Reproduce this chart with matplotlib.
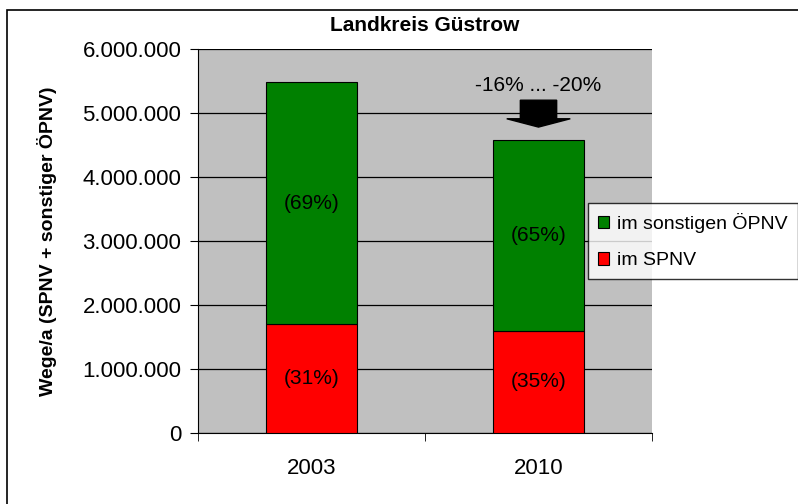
import numpy as np
import matplotlib
matplotlib.use("Agg")
from matplotlib import pyplot as plt
from matplotlib.patches import FancyArrow, Rectangle
from matplotlib.ticker import FuncFormatter, FixedLocator

jahre = ["2003", "2010"]
spnv = [1700000, 1600000]
oepnv = [3780000, 2980000]
anteil_spnv = ["(31%)", "(35%)"]
anteil_oepnv = ["(69%)", "(65%)"]
yticks = [0, 1000000, 2000000, 3000000, 4000000, 5000000, 6000000]

plt.rcParams['font.family'] = ['Liberation Sans', 'DejaVu Sans']

fig = plt.figure(figsize=(7.98, 5.04), dpi=100)
fig.patches.append(Rectangle((7/798, -0.1), 1.1, 1.1 - 10/504, transform=fig.transFigure,
                             fill=False, edgecolor='black', linewidth=1.2))
ax = fig.add_axes([198/798, 1 - 433/504, 454/798, 384/504])
ax.set_facecolor('#c0c0c0')

x = np.arange(len(jahre))
ax.bar(x, spnv, width=0.4, color='#ff0000', edgecolor='black', linewidth=0.8, zorder=3, label='im SPNV')
ax.bar(x, oepnv, width=0.4, bottom=spnv, color='#008000', edgecolor='black', linewidth=0.8, zorder=3,
       label='im sonstigen ÖPNV')

for i in range(len(jahre)):
    ax.text(x[i], spnv[i] / 2, anteil_spnv[i], ha='center', va='center', fontsize=15, zorder=4)
    ax.text(x[i], spnv[i] + oepnv[i] / 2, anteil_oepnv[i], ha='center', va='center', fontsize=15, zorder=4)

ax.set_xlim(-0.5, 1.5)
ax.set_ylim(0, 6000000)
ax.yaxis.set_major_locator(FixedLocator(yticks))
ax.yaxis.set_major_formatter(FuncFormatter(lambda v, p: f"{int(v):,}".replace(",", ".")))
ax.yaxis.grid(True, color='black', linewidth=0.9, zorder=1)
ax.set_xticks(x)
ax.set_xticklabels(jahre)
ax.set_xticks([-0.5, 0.5, 1.5], minor=True)
ax.tick_params(axis='x', which='major', length=0, pad=18, labelsize=16)
ax.tick_params(axis='x', which='minor', length=6, direction='out')
ax.tick_params(axis='y', length=6, direction='out', labelsize=16, pad=6)
for s in ['top', 'right']:
    ax.spines[s].set_visible(False)

ax.set_ylabel("Wege/a (SPNV + sonstiger ÖPNV)", fontsize=14, fontweight='bold', labelpad=18)
ax.set_title("Landkreis Güstrow", fontsize=15, fontweight='bold', pad=13)

# Rueckgang
ax.text(1.0, 5.43e6, "-16% ... -20%", ha='center', va='center', fontsize=15, zorder=5)
ax.add_patch(FancyArrow(1.0, 5.2e6, 0, -0.42e6, width=0.16, head_width=0.28, head_length=0.13e6,
                        length_includes_head=True, color='black', zorder=5))

handles, labels = ax.get_legend_handles_labels()
leg = fig.legend(handles[::-1], labels[::-1], loc='upper left', bbox_to_anchor=(588/798, 1 - 203/504),
                 borderaxespad=0, frameon=True, fancybox=False, edgecolor='black', fontsize=14,
                 handlelength=0.6, handleheight=0.6, handletextpad=0.4, borderpad=0.5, labelspacing=1.0)
leg.get_frame().set_linewidth(1.0)

plt.savefig("out.png", dpi=100)
